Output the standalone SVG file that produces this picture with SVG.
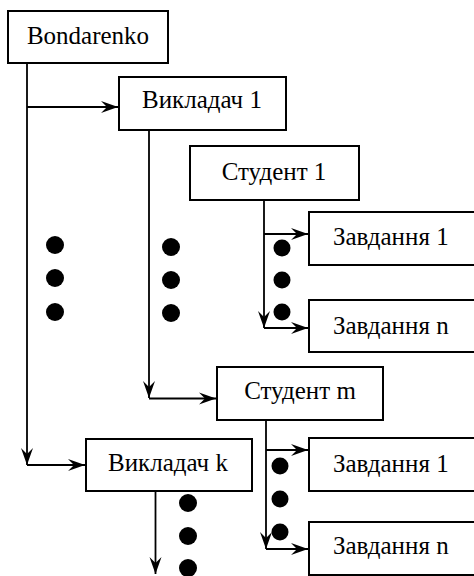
<svg xmlns="http://www.w3.org/2000/svg" width="474" height="576" viewBox="0 0 474 576">
<style>
.box{fill:#fff;stroke:#000;stroke-width:2}
.lbl{font-family:"Liberation Serif","Times New Roman",serif;font-size:25px;fill:#000}
.ln{fill:none;stroke:#000;stroke-width:1.8}
.dot{fill:#000}
</style>
<defs>
<marker id="ah" markerUnits="userSpaceOnUse" markerWidth="20" markerHeight="14" viewBox="-18 -7 20 14" refX="0" refY="0" orient="auto">
<path d="M0,0 L-17,-6 L-11,0 L-17,6 Z" fill="#000"/>
</marker>
</defs>
<rect width="474" height="576" fill="#fff"/>
<g id="connectors">
<path class="ln" d="M27,63 V465" marker-end="url(#ah)"/>
<path class="ln" d="M27,107 H118" marker-end="url(#ah)"/>
<path class="ln" d="M27,465 H85" marker-end="url(#ah)"/>
<path class="ln" d="M149,130 V398" marker-end="url(#ah)"/>
<path class="ln" d="M149,398.5 H216" marker-end="url(#ah)"/>
<path class="ln" d="M264,200 V328" marker-end="url(#ah)"/>
<path class="ln" d="M264,234 H308" marker-end="url(#ah)"/>
<path class="ln" d="M264,328 H308" marker-end="url(#ah)"/>
<path class="ln" d="M266,420 V549" marker-end="url(#ah)"/>
<path class="ln" d="M266,450 H308" marker-end="url(#ah)"/>
<path class="ln" d="M266,549 H308" marker-end="url(#ah)"/>
<path class="ln" d="M155.5,491 V574" marker-end="url(#ah)"/>
</g>
<g id="dots">
<circle class="dot" cx="55" cy="245" r="9"/>
<circle class="dot" cx="55" cy="278" r="9"/>
<circle class="dot" cx="55" cy="312" r="9"/>
<circle class="dot" cx="171" cy="247" r="9"/>
<circle class="dot" cx="171" cy="280" r="9"/>
<circle class="dot" cx="171" cy="313" r="9"/>
<circle class="dot" cx="282" cy="248" r="8.5"/>
<circle class="dot" cx="282" cy="280" r="8.5"/>
<circle class="dot" cx="282" cy="312" r="8.5"/>
<circle class="dot" cx="280" cy="466" r="8.5"/>
<circle class="dot" cx="280" cy="499" r="8.5"/>
<circle class="dot" cx="280" cy="532" r="8.5"/>
<circle class="dot" cx="188" cy="503" r="9"/>
<circle class="dot" cx="188" cy="536" r="9"/>
<circle class="dot" cx="188" cy="568" r="9"/>
</g>
<g id="n-bondarenko">
<rect class="box" x="8" y="11" width="160" height="52"/>
<text class="lbl" x="88" y="44" text-anchor="middle">Bondarenko</text>
</g>
<g id="n-vykladach1">
<rect class="box" x="119" y="77" width="167" height="53"/>
<text class="lbl" x="202" y="108" text-anchor="middle">Викладач 1</text>
</g>
<g id="n-student1">
<rect class="box" x="190" y="146" width="169" height="54"/>
<text class="lbl" x="274" y="180" text-anchor="middle">Студент 1</text>
</g>
<g id="n-zavdannya1a">
<rect class="box" x="309" y="212" width="175" height="53"/>
<text class="lbl" x="333" y="245">Завдання 1</text>
</g>
<g id="n-zavdannyana">
<rect class="box" x="309" y="300" width="175" height="52"/>
<text class="lbl" x="333" y="334">Завдання n</text>
</g>
<g id="n-studentm">
<rect class="box" x="217" y="367" width="166" height="53"/>
<text class="lbl" x="300" y="399" text-anchor="middle">Студент m</text>
</g>
<g id="n-vykladachk">
<rect class="box" x="86" y="439" width="166" height="52"/>
<text class="lbl" x="168" y="471" text-anchor="middle">Викладач k</text>
</g>
<g id="n-zavdannya1b">
<rect class="box" x="309" y="438" width="175" height="53"/>
<text class="lbl" x="333" y="472">Завдання 1</text>
</g>
<g id="n-zavdannyanb">
<rect class="box" x="309" y="522" width="175" height="53"/>
<text class="lbl" x="333" y="554">Завдання n</text>
</g>
</svg>
